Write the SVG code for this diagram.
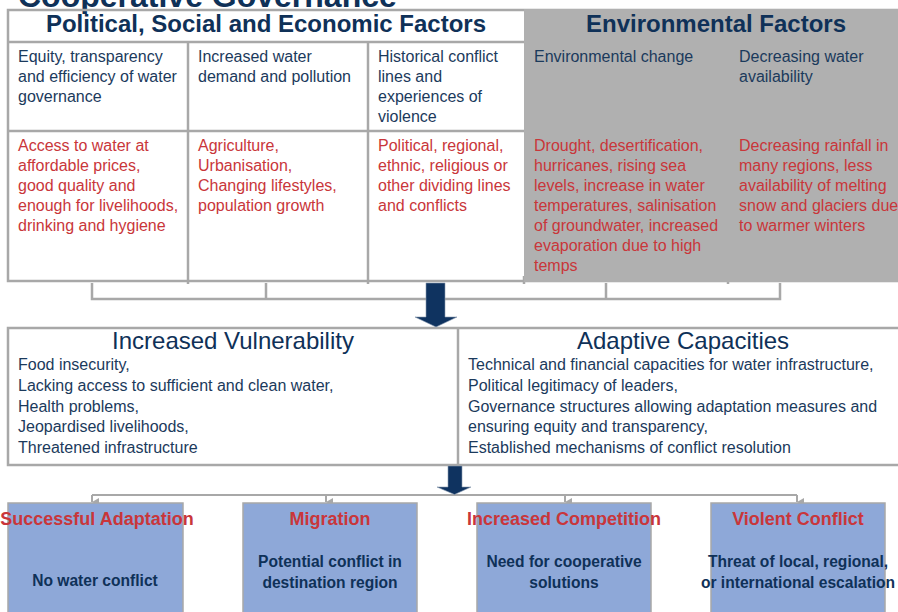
<svg xmlns="http://www.w3.org/2000/svg" width="898" height="612" viewBox="0 0 898 612">
<defs>
<style>
text{font-family:"Liberation Sans",Arial,sans-serif}
.ttl{font-size:32px;font-weight:bold;fill:#0f3158}
.hd{font-size:24px;font-weight:bold;fill:#0f3158}
.hd2{font-size:24px;fill:#0f3158}
.b{font-size:16px;fill:#1b3a5c}
.r{font-size:16px;fill:#c9363a}
.bt{font-size:18px;font-weight:bold;fill:#c9363a}
.bs{font-size:15.6px;font-weight:bold;fill:#0f3158}
.ln{stroke:#a8a8a8;stroke-width:2.5;fill:none}
.ln2{stroke:#a8a8a8;stroke-width:2;fill:none}
.box{fill:#8ea8d8;stroke:#a8a8a8;stroke-width:1.5}
.arr{fill:#0f3360;stroke:#8a9ab0;stroke-width:0.6}
</style>
<marker id="tri" viewBox="0 0 8 7" refX="4" refY="7" markerWidth="8" markerHeight="7" markerUnits="userSpaceOnUse" orient="auto-start-reverse">
<path d="M0,0 L8,0 L4,7 Z" fill="#a8a8a8"/>
</marker>
</defs>
<rect width="898" height="612" fill="#ffffff"/>
<text class="ttl" x="18" y="7">Cooperative Governance</text>

<g id="factors">
<rect x="8" y="10" width="900" height="271" fill="#ffffff" class="ln"/>
<line class="ln" x1="8" y1="42" x2="524" y2="42"/>
<line class="ln" x1="8" y1="131" x2="524" y2="131"/>
<line class="ln" x1="188" y1="42" x2="188" y2="284"/>
<line class="ln" x1="368" y1="42" x2="368" y2="284"/>
<line class="ln" x1="524" y1="276" x2="524" y2="284"/>
<line class="ln" x1="728" y1="276" x2="728" y2="284"/>
<rect x="524" y="9" width="380" height="273" fill="#b0b0b0"/>
<text class="hd" x="266" y="32" text-anchor="middle">Political, Social and Economic Factors</text>
<text class="hd" x="716" y="32" text-anchor="middle">Environmental Factors</text>
</g>

<g id="col-governance">
<text class="b" x="18" y="62">Equity, transparency</text>
<text class="b" x="18" y="82">and efficiency of water</text>
<text class="b" x="18" y="102">governance</text>
<text class="r" x="18" y="151">Access to water at</text>
<text class="r" x="18" y="171">affordable prices,</text>
<text class="r" x="18" y="191">good quality and</text>
<text class="r" x="18" y="211">enough for livelihoods,</text>
<text class="r" x="18" y="231">drinking and hygiene</text>
</g>
<g id="col-demand">
<text class="b" x="198" y="62">Increased water</text>
<text class="b" x="198" y="82">demand and pollution</text>
<text class="r" x="198" y="151">Agriculture,</text>
<text class="r" x="198" y="171">Urbanisation,</text>
<text class="r" x="198" y="191">Changing lifestyles,</text>
<text class="r" x="198" y="211">population growth</text>
</g>
<g id="col-conflict">
<text class="b" x="378" y="62">Historical conflict</text>
<text class="b" x="378" y="82">lines and</text>
<text class="b" x="378" y="102">experiences of</text>
<text class="b" x="378" y="122">violence</text>
<text class="r" x="378" y="151">Political, regional,</text>
<text class="r" x="378" y="171">ethnic, religious or</text>
<text class="r" x="378" y="191">other dividing lines</text>
<text class="r" x="378" y="211">and conflicts</text>
</g>
<g id="col-envchange">
<text class="b" x="534" y="62">Environmental change</text>
<text class="r" x="534" y="151">Drought, desertification,</text>
<text class="r" x="534" y="171">hurricanes, rising sea</text>
<text class="r" x="534" y="191">levels, increase in water</text>
<text class="r" x="534" y="211">temperatures, salinisation</text>
<text class="r" x="534" y="231">of groundwater, increased</text>
<text class="r" x="534" y="251">evaporation due to high</text>
<text class="r" x="534" y="271">temps</text>
</g>
<g id="col-water">
<text class="b" x="739" y="62">Decreasing water</text>
<text class="b" x="739" y="82">availability</text>
<text class="r" x="739" y="151">Decreasing rainfall in</text>
<text class="r" x="739" y="171">many regions, less</text>
<text class="r" x="739" y="191">availability of melting</text>
<text class="r" x="739" y="211">snow and glaciers due</text>
<text class="r" x="739" y="231">to warmer winters</text>
</g>

<g id="middle">
<rect x="8" y="328" width="900" height="137" fill="#ffffff" class="ln"/>
<line class="ln" x1="458" y1="328" x2="458" y2="465"/>
</g>
<g id="vulnerability">
<text class="hd2" x="233" y="349" text-anchor="middle">Increased Vulnerability</text>
<text class="b" x="18" y="370">Food insecurity,</text>
<text class="b" x="18" y="391">Lacking access to sufficient and clean water,</text>
<text class="b" x="18" y="412">Health problems,</text>
<text class="b" x="18" y="432">Jeopardised livelihoods,</text>
<text class="b" x="18" y="453">Threatened infrastructure</text>
</g>
<g id="capacities">
<text class="hd2" x="683" y="349" text-anchor="middle">Adaptive Capacities</text>
<text class="b" x="468" y="370">Technical and financial capacities for water infrastructure,</text>
<text class="b" x="468" y="391">Political legitimacy of leaders,</text>
<text class="b" x="468" y="412">Governance structures allowing adaptation measures and</text>
<text class="b" x="468" y="432">ensuring equity and transparency,</text>
<text class="b" x="468" y="453">Established mechanisms of conflict resolution</text>
</g>

<g id="connectors">
<path class="ln" d="M92,283 V299 H780 V283 M266,283 V299 M606,283 V299"/>
<polygon class="arr" points="426,283 445,283 445,317 457,317 436,327 415,317 426,317"/>
<line class="ln2" x1="92" y1="495" x2="797" y2="495"/>
<line class="ln2" x1="92" y1="495" x2="92" y2="502" marker-end="url(#tri)"/>
<line class="ln2" x1="326" y1="495" x2="326" y2="502" marker-end="url(#tri)"/>
<line class="ln2" x1="565" y1="495" x2="565" y2="502" marker-end="url(#tri)"/>
<line class="ln2" x1="797" y1="495" x2="797" y2="502" marker-end="url(#tri)"/>
<polygon class="arr" points="448,466 462,466 462,487 471,487 454.5,494.5 437,487 448,487"/>
</g>

<g id="adaptation">
<rect class="box" x="8" y="503" width="175" height="120"/>
<text class="bt" x="97" y="525" text-anchor="middle">Successful Adaptation</text>
<text class="bs" x="95" y="586" text-anchor="middle">No water conflict</text>
</g>
<g id="migration">
<rect class="box" x="243" y="503" width="174" height="120"/>
<text class="bt" x="330" y="525" text-anchor="middle">Migration</text>
<text class="bs" x="330" y="567" text-anchor="middle">Potential conflict in</text>
<text class="bs" x="330" y="588" text-anchor="middle">destination region</text>
</g>
<g id="competition">
<rect class="box" x="477" y="503" width="174" height="120"/>
<text class="bt" x="564" y="525" text-anchor="middle">Increased Competition</text>
<text class="bs" x="564" y="567" text-anchor="middle">Need for cooperative</text>
<text class="bs" x="564" y="588" text-anchor="middle">solutions</text>
</g>
<g id="violent">
<rect class="box" x="711" y="503" width="174" height="120"/>
<text class="bt" x="798" y="525" text-anchor="middle">Violent Conflict</text>
<text class="bs" x="798" y="567" text-anchor="middle">Threat of local, regional,</text>
<text class="bs" x="798" y="588" text-anchor="middle">or international escalation</text>
</g>
</svg>
